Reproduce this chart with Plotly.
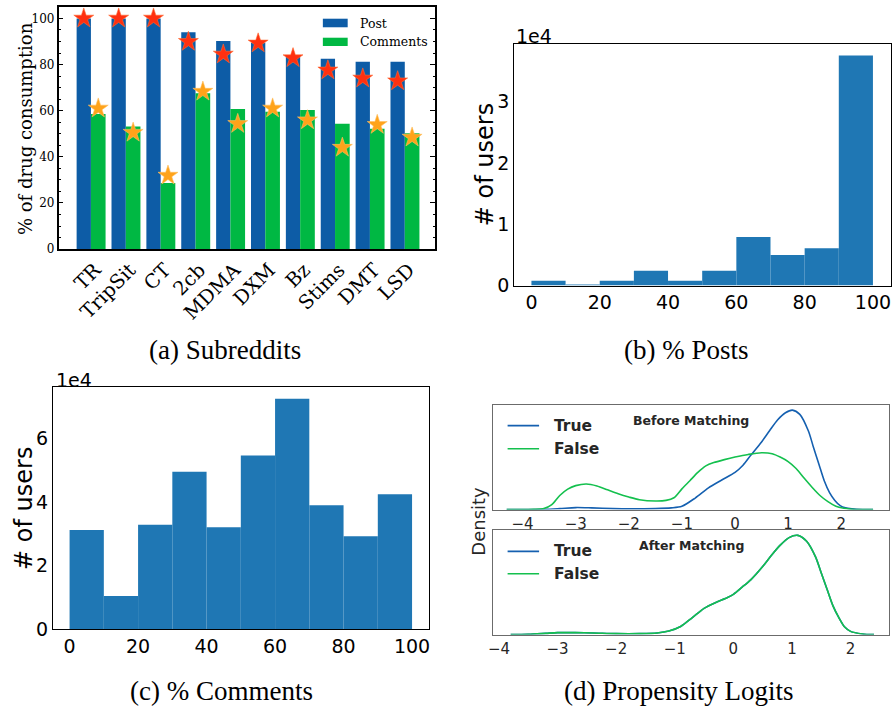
import plotly.graph_objects as go

W, H = 893, 717

# ---------------- data ----------------
subreddits = ["TR", "TripSit", "CT", "2cb", "MDMA", "DXM", "Bz", "Stims", "DMT", "LSD"]
post_pct = [100, 100, 100, 94.0, 90.2, 89.5, 83.9, 82.5, 81.2, 81.2]
comment_pct = [58.6, 53.1, 28.7, 67.6, 60.7, 59.5, 60.3, 54.3, 52.2, 50.2]
post_star = [100, 100, 100, 89.9, 84.4, 89.2, 82.8, 77.5, 74.0, 72.8]
comment_star = [61.0, 50.5, 31.9, 68.3, 54.3, 61.0, 55.9, 44.0, 53.9, 48.4]

bin_edges = [0, 10, 20, 30, 40, 50, 60, 70, 80, 90, 100]
posts_users = [800, 150, 800, 2400, 800, 2400, 7900, 5000, 6100, 37500]
comments_users = [31300, 10500, 32900, 49600, 32100, 54700, 72600, 39100, 29300, 42500]

before_true_x = [-4.3, -3.6, -3.3, -3.0, -2.7, -2.3, -2.0, -1.5, -1.2, -1.0, -0.75, -0.5, -0.25, 0.0,
                 0.15, 0.3, 0.5, 0.65, 0.8, 0.95, 1.08, 1.22, 1.38, 1.48, 1.58, 1.68, 1.78, 1.88,
                 1.98, 2.08, 2.2, 2.4, 2.6]
before_true_y = [0.0, 0.002, 0.01, 0.02, 0.017, 0.01, 0.007, 0.01, 0.017, 0.033, 0.117, 0.22, 0.30,
                 0.377, 0.45, 0.553, 0.687, 0.80, 0.91, 0.983, 1.01, 0.967, 0.80, 0.627, 0.46,
                 0.293, 0.173, 0.093, 0.04, 0.017, 0.007, 0.0, 0.0]
before_false_x = [-4.3, -4.0, -3.8, -3.6, -3.45, -3.3, -3.15, -3.0, -2.8, -2.6, -2.4, -2.2, -2.0,
                  -1.8, -1.5, -1.3, -1.15, -1.0, -0.85, -0.7, -0.55, -0.4, -0.2, 0.0, 0.25, 0.5,
                  0.7, 0.85, 1.0, 1.15, 1.3, 1.45, 1.6, 1.75, 1.9, 2.05, 2.2, 2.4, 2.6]
before_false_y = [0.0, 0.0, 0.003, 0.01, 0.05, 0.143, 0.207, 0.243, 0.26, 0.24, 0.20, 0.16, 0.127,
                  0.10, 0.087, 0.093, 0.12, 0.21, 0.293, 0.377, 0.443, 0.477, 0.507, 0.533, 0.56,
                  0.577, 0.567, 0.533, 0.487, 0.417, 0.32, 0.227, 0.143, 0.08, 0.033, 0.013,
                  0.003, 0.0, 0.0]
after_x = [-3.8, -3.5, -3.2, -3.0, -2.7, -2.4, -2.0, -1.6, -1.3, -1.1, -0.9, -0.7, -0.5, -0.3,
           -0.1, 0.0, 0.15, 0.3, 0.5, 0.65, 0.8, 0.95, 1.1, 1.25, 1.4, 1.5, 1.6, 1.7, 1.8, 1.9,
           2.0, 2.2, 2.4]
after_true_y = [0.0, 0.003, 0.013, 0.02, 0.02, 0.017, 0.01, 0.01, 0.017, 0.037, 0.083, 0.173,
                0.267, 0.327, 0.377, 0.41, 0.483, 0.56, 0.693, 0.807, 0.91, 0.987, 1.01, 0.95,
                0.793, 0.627, 0.46, 0.293, 0.173, 0.077, 0.033, 0.007, 0.0]
after_false_y = list(after_true_y)

# ---------------- styles ----------------
POST_C = "#0d5ca6"
COMM_C = "#00b843"
RED_STAR = "#ff3010"
ORANGE_STAR = "#ffa31a"
HIST_C = "#1f77b4"
KDE_BLUE = "#1560b0"
KDE_GREEN = "#14c04e"
GRAY = "#262626"


def px(x):
    return x / W


def py(y):
    return 1 - y / H


fig = go.Figure()

# (a) grouped bars + stars
idx = list(range(len(subreddits)))
fig.add_trace(go.Bar(x=idx, y=post_pct, width=0.41, offset=-0.41, marker=dict(color=POST_C, line=dict(width=0)),
                     xaxis="x", yaxis="y", showlegend=False))
fig.add_trace(go.Bar(x=idx, y=comment_pct, width=0.42, offset=0.0, marker=dict(color=COMM_C, line=dict(width=0)),
                     xaxis="x", yaxis="y", showlegend=False))
fig.add_trace(go.Scatter(x=[i - 0.205 for i in idx], y=post_star, mode="markers",
                         marker=dict(symbol="star", size=15, color=RED_STAR, line=dict(width=0.6, color="#ff6a30")),
                         xaxis="x", yaxis="y", showlegend=False))
fig.add_trace(go.Scatter(x=[i + 0.21 for i in idx], y=comment_star, mode="markers",
                         marker=dict(symbol="star", size=15, color=ORANGE_STAR, line=dict(width=0.6, color="#ffc060")),
                         xaxis="x", yaxis="y", showlegend=False))

# (b), (c) histograms
centers = [(bin_edges[i] + bin_edges[i + 1]) / 2 for i in range(len(bin_edges) - 1)]
widths = [bin_edges[i + 1] - bin_edges[i] for i in range(len(bin_edges) - 1)]
fig.add_trace(go.Bar(x=centers, y=posts_users, width=widths, marker=dict(color=HIST_C, line=dict(width=0)),
                     xaxis="x2", yaxis="y2", showlegend=False))
fig.add_trace(go.Bar(x=centers, y=comments_users, width=widths, marker=dict(color=HIST_C, line=dict(width=0)),
                     xaxis="x3", yaxis="y3", showlegend=False))

# (d) KDE curves
fig.add_trace(go.Scatter(x=before_true_x, y=before_true_y, mode="lines",
                         line=dict(color=KDE_BLUE, width=1.6, shape="spline", smoothing=0.8),
                         xaxis="x4", yaxis="y4", showlegend=False))
fig.add_trace(go.Scatter(x=before_false_x, y=before_false_y, mode="lines",
                         line=dict(color=KDE_GREEN, width=1.6, shape="spline", smoothing=0.8),
                         xaxis="x4", yaxis="y4", showlegend=False))
fig.add_trace(go.Scatter(x=after_x, y=after_true_y, mode="lines",
                         line=dict(color=KDE_BLUE, width=1.6, shape="spline", smoothing=0.8),
                         xaxis="x5", yaxis="y5", showlegend=False))
fig.add_trace(go.Scatter(x=after_x, y=after_false_y, mode="lines",
                         line=dict(color=KDE_GREEN, width=1.6, shape="spline", smoothing=0.8),
                         xaxis="x5", yaxis="y5", showlegend=False))

serif = "DejaVu Serif"
sans = "DejaVu Sans"

frame_a = dict(showline=True, linecolor="black", linewidth=1.5, mirror=True, showgrid=False, zeroline=False)
frame_h = dict(showline=True, linecolor="black", linewidth=1.2, mirror=True, showgrid=False, zeroline=False,
               ticks="")
frame_d = dict(showline=True, linecolor="#6b6b6b", linewidth=1.4, mirror=True, showgrid=False, zeroline=False,
               ticks="")

fig.update_layout(
    width=W, height=H, margin=dict(l=0, r=0, t=0, b=0),
    paper_bgcolor="white", plot_bgcolor="white",
    barmode="overlay", showlegend=False,
    xaxis=dict(domain=[px(54), px(433)], range=[-0.926, 9.869], anchor="y",
               tickmode="array", tickvals=[i + 0.12 for i in idx], ticktext=subreddits, tickangle=-45,
               tickfont=dict(family=serif, size=19.5, color="black"), ticks="", **frame_a),
    yaxis=dict(domain=[py(253), py(7)], range=[0, 105], anchor="x",
               tickmode="linear", tick0=0, dtick=20, ticks="inside", ticklen=5, tickcolor="black",
               tickwidth=1, tickfont=dict(family=serif, size=12, color="black"),
               minor=dict(dtick=5, ticks="inside", ticklen=2.5, tickcolor="black", tickwidth=1, showgrid=False),
               showline=True, linecolor="black", linewidth=1.5, mirror="allticks", showgrid=False, zeroline=False),
    xaxis2=dict(domain=[px(512.7), px(891.7)], range=[-5.03, 105.2], anchor="y2",
                tickmode="array", tickvals=[0, 20, 40, 60, 80, 100],
                tickfont=dict(family=sans, size=19, color="black"), **frame_h),
    yaxis2=dict(domain=[py(290), py(44.3)], range=[0, 39440], anchor="x2",
                tickmode="array", tickvals=[0, 10000, 20000, 30000], ticktext=["0", "1", "2", "3"],
                tickfont=dict(family=sans, size=19, color="black"), **frame_h),
    xaxis3=dict(domain=[px(48.3), px(426.7)], range=[-4.85, 104.9], anchor="y3",
                tickmode="array", tickvals=[0, 20, 40, 60, 80, 100],
                tickfont=dict(family=sans, size=19, color="black"), **frame_h),
    yaxis3=dict(domain=[py(639), py(393.3)], range=[0, 76240], anchor="x3",
                tickmode="array", tickvals=[0, 20000, 40000, 60000], ticktext=["0", "2", "4", "6"],
                tickfont=dict(family=sans, size=19, color="black"), **frame_h),
    xaxis4=dict(domain=[px(491.7), px(890)], range=[-4.55, 2.90], anchor="y4",
                tickmode="array", tickvals=[-4, -3, -2, -1, 0, 1, 2],
                tickfont=dict(family=sans, size=15, color=GRAY), **frame_d),
    yaxis4=dict(domain=[py(517.5), py(411.5)], range=[0, 1.06], anchor="x4",
                showticklabels=False, **frame_d),
    xaxis5=dict(domain=[px(491.7), px(890)], range=[-4.095, 2.656], anchor="y5",
                tickmode="array", tickvals=[-4, -3, -2, -1, 0, 1, 2],
                tickfont=dict(family=sans, size=15, color=GRAY), **frame_d),
    yaxis5=dict(domain=[py(644.5), py(538.7)], range=[0, 1.06], anchor="x5",
                showticklabels=False, **frame_d),
)

ann = []


def text(x, y, s, size, family, color="black", xanchor="center", yanchor="middle", angle=0, bold=False):
    if bold:
        s = "<b>" + s + "</b>"
    ann.append(dict(x=px(x), y=py(y), xref="paper", yref="paper", text=s, showarrow=False,
                    xanchor=xanchor, yanchor=yanchor, textangle=angle,
                    font=dict(family=family, size=size, color=color)))


# axis titles
text(20.7, 130.5, "% of drug consumption", 18, serif, angle=-90)
text(484, 167, "# of users", 24, sans, angle=-90)
text(19, 516, "# of users", 24, sans, angle=-90)
text(476.7, 529.3, "Density", 18, sans, color=GRAY, angle=-90)
# offset texts
text(512.5, 36.7, "1e4", 19, sans, xanchor="left")
text(49.5, 385.5, "1e4", 19, sans, xanchor="left")
# captions
text(221.5, 355, "(a) Subreddits", 27, "Liberation Serif")
text(686, 355, "(b) % Posts", 27, "Liberation Serif")
text(217.8, 702, "(c) % Comments", 27, "Liberation Serif")
text(679, 702, "(d) Propensity Logits", 27, "Liberation Serif")
# legend (a)
shapes = [
    dict(type="rect", xref="paper", yref="paper", x0=px(320), x1=px(345), y0=py(27.7), y1=py(19),
         fillcolor=POST_C, line=dict(width=0)),
    dict(type="rect", xref="paper", yref="paper", x0=px(320), x1=px(345), y0=py(46.7), y1=py(38.3),
         fillcolor=COMM_C, line=dict(width=0)),
]
text(355, 23.6, "Post", 12.5, serif, xanchor="left")
text(355, 42.4, "Comments", 12.5, serif, xanchor="left")
# (d) titles and legends
text(691, 427, "Before Matching", 12.5, sans, color=GRAY, bold=True)
text(691, 554, "After Matching", 12.5, sans, color=GRAY, bold=True)
for yl, col, lab in [(432.3, KDE_BLUE, "True"), (455.7, KDE_GREEN, "False"),
                     (560, KDE_BLUE, "True"), (582.7, KDE_GREEN, "False")]:
    shapes.append(dict(type="line", xref="paper", yref="paper", x0=px(506), x1=px(537.7), y0=py(yl), y1=py(yl),
                       line=dict(color=col, width=1.6)))
    text(550.7, yl, lab, 15.5, sans, color=GRAY, xanchor="left", bold=True)

fig.update_layout(annotations=ann, shapes=shapes)

fig.write_html("out.html", config={"displayModeBar": False},
               post_script="document.body.style.margin='0';document.body.style.overflow='hidden';")
